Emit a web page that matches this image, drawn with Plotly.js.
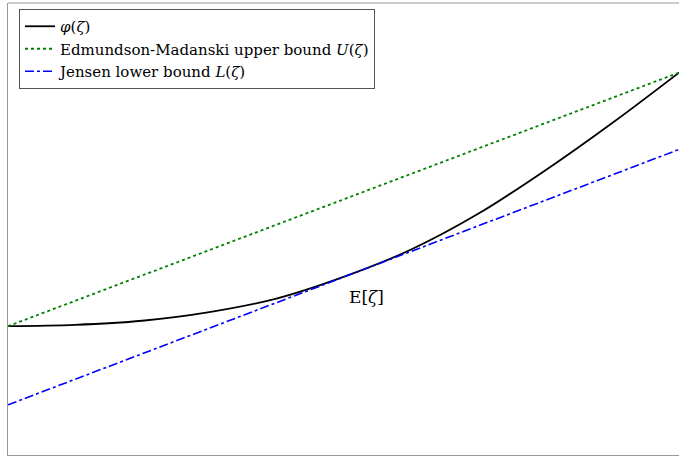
<!DOCTYPE html>
<html>
<head>
<meta charset="utf-8">
<script src="https://cdn.plot.ly/plotly-3.0.1.min.js"></script>
<style>html,body{margin:0;padding:0;overflow:hidden;background:#fff}</style>
</head>
<body>
<div id="chart" style="width:679px;height:457px"></div>
<script>
// zeta grid (normalized) and phi values
const zeta = [0, 0.1, 0.2, 0.3, 0.4, 0.5, 0.6, 0.7, 0.8, 0.9, 1.0];
const phi  = [28.5, 28.8, 29.7, 31.6, 34.6, 39.4, 45.4, 53.3, 62.9, 73.4, 84.6];
// Edmundson-Madanski upper bound (chord through the end points)
const upperX = [0, 1];
const upperY = [28.5, 84.6];
// Jensen lower bound (tangent at E[zeta])
const lowerX = [0, 1];
const lowerY = [11.1, 67.6];
const meanZeta = 0.534;
const meanLabelY = 35.0;

const serif = "DejaVu Serif";

const traces = [
  {x: zeta, y: phi, mode: 'lines', name: '<i>φ</i>(<i>ζ</i>)',
   line: {color: '#000000', width: 1.8, shape: 'spline', smoothing: 1}},
  {x: upperX, y: upperY, mode: 'lines', name: 'Edmundson-Madanski upper bound <i>U</i>(<i>ζ</i>)',
   line: {color: '#008000', width: 1.8, dash: 'dot'}},
  {x: lowerX, y: lowerY, mode: 'lines', name: 'Jensen lower bound <i>L</i>(<i>ζ</i>)',
   line: {color: '#0000ff', width: 1.6, dash: 'dashdot'}}
];

const layout = {
  width: 679, height: 457,
  margin: {l: 8, r: 0, t: 3, b: 2, pad: 0},
  paper_bgcolor: '#fff', plot_bgcolor: '#fff',
  font: {family: serif, color: '#000'},
  showlegend: true,
  legend: {x: 0.0164, y: 0.9867, xanchor: 'left', yanchor: 'top',
           bgcolor: '#fff', bordercolor: '#555', borderwidth: 1,
           font: {family: serif, size: 15, color: '#000'},
           itemwidth: 30, tracegroupgap: 0},
  xaxis: {range: [0, 1], showgrid: false, zeroline: false, showticklabels: false,
          ticks: '', showline: true, linecolor: '#999', linewidth: 1, mirror: false},
  yaxis: {range: [0, 100], showgrid: false, zeroline: false, showticklabels: false,
          ticks: '', showline: true, linecolor: '#999', linewidth: 1, mirror: false},
  shapes: [{type: 'line', xref: 'paper', yref: 'paper', x0: 0, x1: 1, y0: 1, y1: 1,
            line: {color: '#999', width: 1}}],
  annotations: [{x: meanZeta, y: meanLabelY, xref: 'x', yref: 'y', text: 'E[<i>ζ</i>]',
                 showarrow: false, font: {family: serif, size: 17, color: '#000'}}]
};

Plotly.newPlot('chart', traces, layout, {displayModeBar: false, staticPlot: true});
</script>
</body>
</html>
